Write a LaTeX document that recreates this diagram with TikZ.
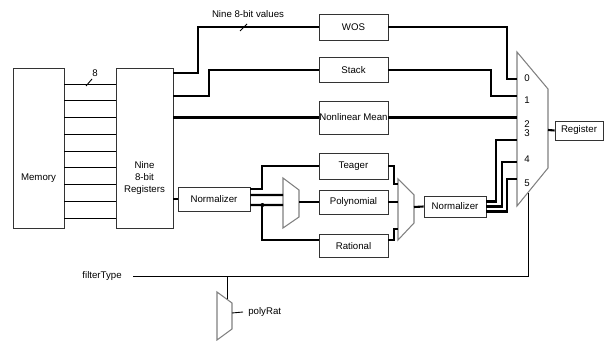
\documentclass[tikz,border=0pt]{standalone}
\usepackage{fontspec}
\setmainfont{Liberation Sans}
\usetikzlibrary{positioning,calc}

\tikzset{
  blk/.style={draw=black!80, line width=0.5pt, fill=white, inner sep=0pt},
  bus/.style={line width=1.2pt},
  wire/.style={line width=0.5pt},
  muxs/.style={draw=black!50, line width=0.6pt, fill=white},
}

\begin{document}
\begin{tikzpicture}[x=0.02cm, y=-0.02cm, font=\fontsize{5.5}{6.6}\selectfont]
  \useasboundingbox (0,0) rectangle (608,341);
  \def\bw{1.38cm} % width of the filter boxes
  % memory and the register bank
  \node[blk, minimum width=1.02cm, minimum height=3.2cm] (mem) at (38.5,148) {};
  \node (memtxt) at (38.5,178) {Memory};
  \node[blk, minimum width=1.14cm, minimum height=3.2cm] (regs) at (144.5,148) {};
  \node[align=center, inner sep=0pt] (regtxt) at (144.5,178) {Nine\\8-bit\\Registers};
  % nine 8-bit lines
  \foreach \i [evaluate=\i as \yy using 84+16.75*\i] in {0,...,8} {
    \draw[wire] (mem.east |- 0,\yy) -- (regs.west |- 0,\yy);
  }
  \node (bwd) at (95,73) {8};
  \draw[wire] (86,86) -- (92,79);

  % filter boxes
  \node[blk, minimum width=\bw, minimum height=0.52cm] (wos) at (353.5,27) {WOS};
  \node[blk, minimum width=\bw, minimum height=0.5cm] (stack) at (353.5,70) {Stack};
  \node[blk, minimum width=\bw, minimum height=0.66cm] (nlm) at (353.5,117.5) {Nonlinear Mean};
  \node[blk, minimum width=\bw, minimum height=0.52cm] (teager) at (353.5,166) {Teager};
  \node[blk, minimum width=\bw, minimum height=0.48cm] (poly) at (353.5,202) {Polynomial};
  \node[blk, minimum width=\bw, minimum height=0.46cm] (rat) at (353.5,246) {Rational};
  \node[blk, minimum width=1.44cm, minimum height=0.48cm] (norm1) at (214,199) {Normalizer};
  \node[blk, minimum width=1.24cm, minimum height=0.42cm] (norm2) at (455,206.5) {Normalizer};
  \node[blk, minimum width=0.96cm, minimum height=0.38cm] (reg) at (579,130.5) {Register};

  % main mux
  \draw[muxs] (517,52) -- (548,89) -- (548,168) -- (517,206) -- cycle;
  \foreach \n/\y in {0/79,1/96,2/117.5,3/140,4/162,5/179}
    \coordinate (in\n) at (517,\y);
  \foreach \n/\y in {0/78,1/100,2/124,3/133,4/159,5/183}
    \node (lb\n) at (527,\y) {\n};
  \coordinate (sel) at (528,192.5);
  \coordinate (mout) at (548,130);

  % small muxes
  \draw[muxs] (283,178) -- (299,190) -- (299,217) -- (283,228) -- cycle;
  \coordinate (m1a) at (283,195);
  \coordinate (m1b) at (283,205);
  \coordinate (m1o) at (299,202);
  \draw[muxs] (398,179) -- (414,195) -- (414,223) -- (398,240) -- cycle;
  \coordinate (m2a) at (398,184);
  \coordinate (m2b) at (398,202);
  \coordinate (m2c) at (398,229);
  \coordinate (m2o) at (414,207);
  \draw[muxs] (217,292) -- (232,303) -- (232,329) -- (217,340) -- cycle;
  \coordinate (prsel) at (227,299);
  \coordinate (prout) at (232,313);

  % top paths
  \draw[bus] (regs.east |- 0,73) -- (198,73) |- (wos.west);
  \node (vals) at (248,14) {Nine 8-bit values};
  \draw[wire] (240,31) -- (247,24);
  \draw[bus] (regs.east |- 0,96) -- (209,96) |- (stack.west);
  \draw[bus] (regs.east |- nlm.west) -- (nlm.west);
  \draw[bus] (wos.east) -| ([xshift=-0.2cm]in0) -- (in0);
  \draw[bus] (stack.east) -| ([xshift=-0.52cm]in1) -- (in1);
  \draw[bus] (nlm.east) -- (in2);
  \draw[bus] (mout) -- (reg.west);

  % lower paths
  \draw[bus] (regs.east |- norm1.west) -- (norm1.west);
  \draw[bus] ([yshift=0.2cm]norm1.east) -| ([xshift=-1.14cm]teager.west) -- (teager.west);
  \draw[bus] ([yshift=0.08cm]norm1.east) -- (m1a);
  \draw[bus] ([yshift=-0.12cm]norm1.east) -- (m1b);
  \coordinate (jn) at ([xshift=0.24cm, yshift=-0.12cm]norm1.east);
  \draw[bus] (jn) |- ([yshift=0.12cm]rat.west);
  \fill (jn) circle (0.04cm);
  \draw[bus] (m1o) -- (poly.west);
  \draw[bus] (teager.east) -| ([xshift=-0.08cm]m2a) -- (m2a);
  \draw[bus] (poly.east) -- (m2b);
  \draw[bus] ([yshift=0.12cm]rat.east) -| ([xshift=-0.08cm]m2c) -- (m2c);
  \draw[bus] (m2o) -- (norm2.west);
  \draw[bus] ([yshift=0.1cm]norm2.east) -| ([xshift=-0.42cm]in3) -- (in3);
  \draw[bus] (norm2.east) -| ([xshift=-0.3cm]in4) -- (in4);
  \draw[bus] ([yshift=-0.1cm]norm2.east) -| ([xshift=-0.2cm]in5) -- (in5);

  % select lines
  \node[anchor=east, inner xsep=0.22cm, inner ysep=0pt] (ft) at (133,276) {filterType};
  \draw[wire] (ft.east) -| (sel);
  \draw[wire] (prsel |- ft.east) -- (prsel);
  \node[anchor=west, inner xsep=0.1cm, inner ysep=0pt] (pr) at (243,312) {polyRat};
  \draw[wire] (prout) -- (pr.west);
\end{tikzpicture}
\end{document}
